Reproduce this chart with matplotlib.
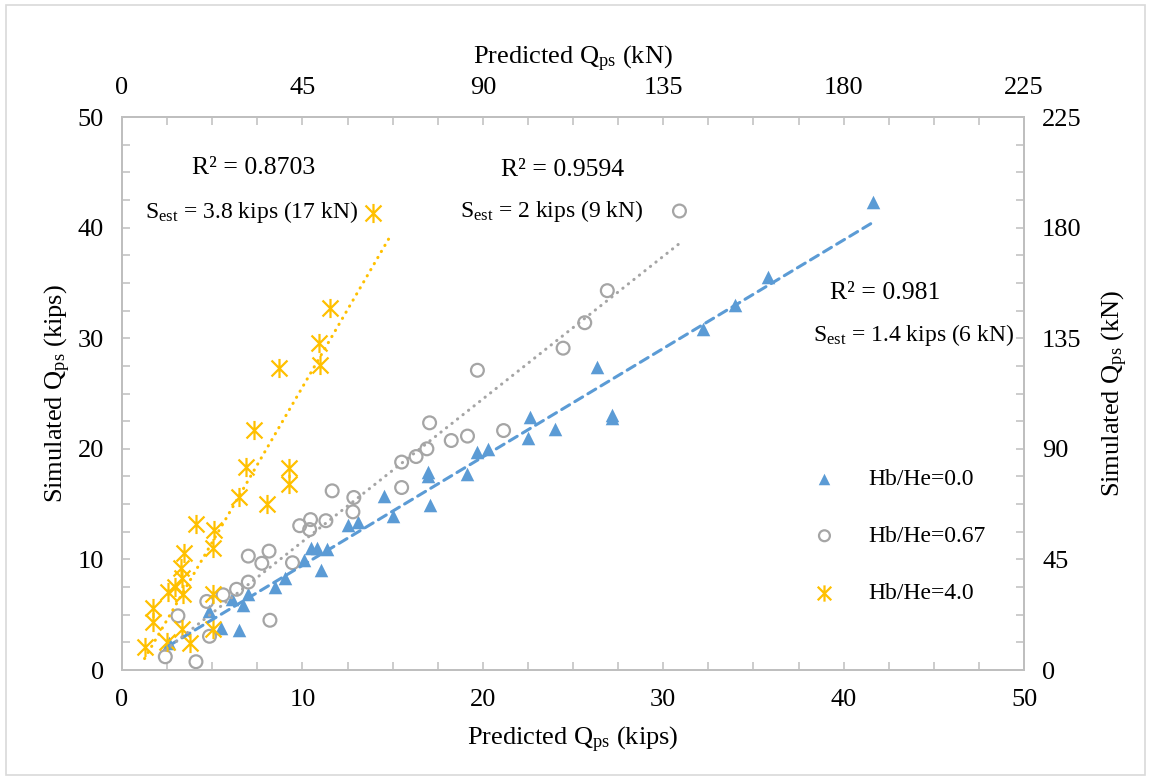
import numpy as np
import matplotlib
matplotlib.use('Agg')
import matplotlib.pyplot as plt
from matplotlib.path import Path
from matplotlib.patches import Rectangle

plt.rcParams['font.family'] = ['Liberation Serif', 'DejaVu Serif']
plt.rcParams['mathtext.fontset'] = 'custom'
plt.rcParams['mathtext.rm'] = 'Liberation Serif'
plt.rcParams['mathtext.it'] = 'Liberation Serif:italic'

# data, predicted vs simulated (kips)
x_00 = [2.6, 4.8, 5.5, 6.5, 6.1, 6.7, 7.0, 8.5, 9.05, 10.1, 10.5, 10.8, 11.35, 11.05,
        12.55, 13.1, 14.5, 15.0, 16.95, 16.95, 17.05, 19.1, 19.65, 20.3, 22.5, 22.6,
        24.0, 26.35, 27.15, 27.15, 32.2, 34.0, 35.8, 41.6]
y_00 = [2.4, 5.3, 3.8, 3.6, 6.4, 5.9, 6.9, 7.5, 8.35, 9.95, 11.0, 11.0, 10.9, 9.0,
        13.1, 13.4, 15.7, 13.9, 17.9, 17.5, 14.9, 17.7, 19.7, 19.95, 20.95, 22.85,
        21.8, 27.4, 23.1, 22.75, 30.8, 33.0, 35.5, 42.3]

x_067 = [2.4, 4.1, 3.1, 4.85, 4.7, 5.6, 6.35, 7.0, 7.0, 7.75, 8.15, 8.2, 9.45, 9.85,
         10.4, 10.45, 11.3, 11.65, 12.85, 12.8, 15.5, 15.5, 16.3, 16.9, 17.05, 18.25,
         19.15, 19.7, 21.15, 24.45, 25.65, 26.9, 30.9]
y_067 = [1.2, 0.75, 4.9, 3.05, 6.2, 6.8, 7.3, 7.95, 10.3, 9.65, 10.75, 4.5, 9.7, 13.05,
         12.7, 13.6, 13.5, 16.2, 15.6, 14.3, 16.5, 18.8, 19.3, 20.0, 22.35, 20.75,
         21.15, 27.1, 21.65, 29.1, 31.4, 34.3, 41.5]

x_40 = [1.25, 2.52, 3.75, 1.7, 1.7, 3.35, 5.05, 5.05, 2.55, 2.94, 3.4, 3.35, 3.27, 3.45,
        4.1, 5.05, 5.1, 6.5, 8.02, 6.88, 7.3, 9.28, 9.28, 8.72, 10.96, 10.94, 11.55, 13.9]
y_40 = [2.05, 2.5, 2.45, 4.3, 5.6, 3.7, 3.7, 6.9, 7.08, 7.55, 6.85, 8.3, 9.25, 10.6,
        13.2, 11.05, 12.7, 15.65, 15.05, 18.35, 21.7, 16.8, 18.3, 27.3, 27.55, 29.55, 32.7, 41.3]

labels = ['Hb/He=0.0', 'Hb/He=0.67', 'Hb/He=4.0']
blue, grey, gold = '#5B9BD5', '#A5A5A5', '#FFC000'
axis_grey = '#BFBFBF'

star = Path([(-1, -1), (1, 1), (-1, 1), (1, -1), (0, -1.2), (0, 1.2)],
            [Path.MOVETO, Path.LINETO, Path.MOVETO, Path.LINETO, Path.MOVETO, Path.LINETO])

fig = plt.figure(figsize=(11.51, 7.8), dpi=100)
fig.patches.append(Rectangle((0.005, 0.006), 0.99, 0.988, transform=fig.transFigure,
                             fill=False, edgecolor='#D9D9D9', linewidth=1.2))
ax = fig.add_axes([0.106, 0.141, 0.7837, 0.709])

ax.scatter(x_00, y_00, marker='^', s=95, color=blue, linewidths=0, label=labels[0], zorder=3)
ax.scatter(x_067, y_067, marker='o', s=85, facecolors='none', edgecolors=grey,
           linewidths=1.6, label=labels[1], zorder=3)
ax.scatter(x_40, y_40, marker=star, s=190, color=gold, linewidths=1.6, label=labels[2], zorder=3)

# linear trendlines
def trend(x, y, color, ls, extend=0.0):
    k, b = np.polyfit(x, y, 1)
    xs = np.array([min(x), max(x) + extend])
    ax.plot(xs, k * xs + b, color=color, linestyle=ls, linewidth=2.2,
            dash_capstyle='round', zorder=4)

trend(x_00, y_00, blue, (0, (3, 2)))
trend(x_067, y_067, grey, (0, (0.1, 2.2)))
trend(x_40, y_40, gold, (0, (0.1, 2.2)), extend=1.0)

ax.set_xlim(0, 50)
ax.set_ylim(0, 50)
ax.set_xticks(np.arange(0, 51, 10))
ax.set_yticks(np.arange(0, 51, 10))
ax.set_xticks(np.arange(0, 51, 2.5), minor=True)
ax.set_yticks(np.arange(0, 51, 2.5), minor=True)

fs = 19     # ticks and axis titles
ft = 17     # annotations and legend
for s in ax.spines.values():
    s.set_color(axis_grey)
    s.set_linewidth(1.3)
ax.tick_params(which='both', direction='in', color=axis_grey, length=6, width=1.1)
ax.tick_params(axis='x', labelsize=fs, pad=14)
ax.tick_params(axis='y', labelsize=fs, pad=13)
ax.set_xlabel(r'Predicted Q$_{\rm ps}$ (kips)', fontsize=fs, labelpad=10)
ax.set_ylabel(r'Simulated Q$_{\rm ps}$ (kips)', fontsize=fs, labelpad=3)

# kN axes
axt = ax.twiny()
axt.set_xlim(0, 225)
axt.set_xticks(np.arange(0, 226, 45))
axt.set_xticks(np.arange(0, 226, 11.25), minor=True)
axt.tick_params(which='both', direction='in', color=axis_grey, length=6, width=1.1)
axt.tick_params(axis='x', labelsize=fs, pad=13)
axt.set_xlabel(r'Predicted Q$_{\rm ps}$ (kN)', fontsize=fs, labelpad=9)

axr = ax.twinx()
axr.set_ylim(0, 225)
axr.set_yticks(np.arange(0, 226, 45))
axr.set_yticks(np.arange(0, 226, 11.25), minor=True)
axr.tick_params(which='both', direction='in', color=axis_grey, length=6, width=1.1)
axr.tick_params(axis='y', labelsize=fs, pad=13)
axr.set_ylabel(r'Simulated Q$_{\rm ps}$ (kN)', fontsize=fs, labelpad=13)
for a in (axt, axr):
    for s in a.spines.values():
        s.set_color(axis_grey)
        s.set_linewidth(1.3)

# fit statistics
fr = 18.5
ax.text(7.3, 45.4, 'R² = 0.8703', fontsize=fr, ha='center', va='center')
ax.text(7.2, 41.4, r'S$_{\rm est}$ = 3.8 kips (17 kN)', fontsize=ft, ha='center', va='center')
ax.text(24.4, 45.2, 'R² = 0.9594', fontsize=fr, ha='center', va='center')
ax.text(23.8, 41.5, r'S$_{\rm est}$ = 2 kips (9 kN)', fontsize=ft, ha='center', va='center')
ax.text(42.3, 34.1, 'R² = 0.981', fontsize=fr, ha='center', va='center')
ax.text(43.9, 30.3, r'S$_{\rm est}$ = 1.4 kips (6 kN)', fontsize=ft, ha='center', va='center')

ax.legend(loc='center left', bbox_to_anchor=(0.729, 0.242), frameon=False, fontsize=ft,
          labelspacing=1.5, handletextpad=0.85, markerscale=0.85)

fig.savefig('out.png', dpi=100)
